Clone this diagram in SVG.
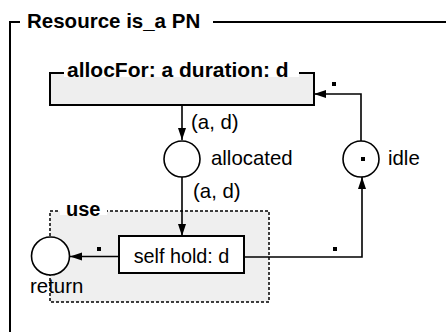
<svg xmlns="http://www.w3.org/2000/svg" width="446" height="332" viewBox="0 0 446 332">
<style>
.t{font-family:"Liberation Sans",Arial,sans-serif;font-size:20.4px;fill:#000}
.b{font-weight:bold}
.ln{fill:none;stroke:#000;stroke-width:2}
.cn{fill:none;stroke:#000;stroke-width:1.6}
.pl{fill:#fff;stroke:#000;stroke-width:1.6}
.tok{fill:#000}
</style>
<defs>
<marker id="ah" markerUnits="userSpaceOnUse" markerWidth="13" markerHeight="10" refX="12" refY="5" orient="auto">
<path d="M0,1 L12,5 L0,9 z" fill="#000"/>
</marker>
</defs>
<rect width="446" height="332" fill="#fff"/>
<g id="frame">
<path class="ln" d="M10,332 V22 H20"/>
<path class="ln" d="M213,22 H446"/>
<text class="t b" x="27" y="28" style="font-size:20.5px">Resource is_a PN</text>
</g>
<g id="use">
<rect x="50" y="211" width="219" height="91" fill="#efefef" stroke="#000" stroke-width="1.5" stroke-dasharray="3,2"/>
<rect x="60" y="200" width="47" height="15" fill="#fff"/>
<text class="t b" x="66" y="216" style="font-size:20px">use</text>
</g>
<g id="allocFor">
<rect x="50" y="73" width="264" height="32" fill="#eeeeee" stroke="#000" stroke-width="2"/>
<rect x="64" y="58" width="235" height="19" fill="#fff"/>
<text class="t b" x="67" y="77" style="font-size:21px">allocFor: a duration: d</text>
</g>
<g id="allocated">
<circle class="pl" cx="182" cy="159" r="18"/>
<text class="t" x="211" y="165">allocated</text>
</g>
<g id="idle">
<circle class="pl" cx="361" cy="159" r="18"/>
<rect class="tok" x="361" y="157" width="4" height="4"/>
<text class="t" x="388" y="165">idle</text>
</g>
<g id="selfHold">
<rect x="119" y="236" width="125" height="37" fill="#fff" stroke="#000" stroke-width="2"/>
<text class="t" x="181.5" y="263" text-anchor="middle" style="font-size:19.8px">self hold: d</text>
</g>
<g id="return">
<circle class="pl" cx="50.5" cy="256" r="19"/>
<text class="t" x="30" y="293">return</text>
</g>
<g id="connectors">
<path class="cn" d="M182,105 V140" marker-end="url(#ah)"/>
<text class="t" x="191" y="129">(a, d)</text>
<path class="cn" d="M182,177 V236" marker-end="url(#ah)"/>
<text class="t" x="193" y="198">(a, d)</text>
<path class="cn" d="M119,256.5 H70" marker-end="url(#ah)"/>
<rect class="tok" x="97" y="247" width="4" height="4"/>
<path class="cn" d="M244,257 H362 V177" marker-end="url(#ah)"/>
<rect class="tok" x="333" y="247" width="4" height="4"/>
<path class="cn" d="M361,141 V94 H314" marker-end="url(#ah)"/>
<rect class="tok" x="332" y="82" width="4" height="4"/>
</g>
</svg>
